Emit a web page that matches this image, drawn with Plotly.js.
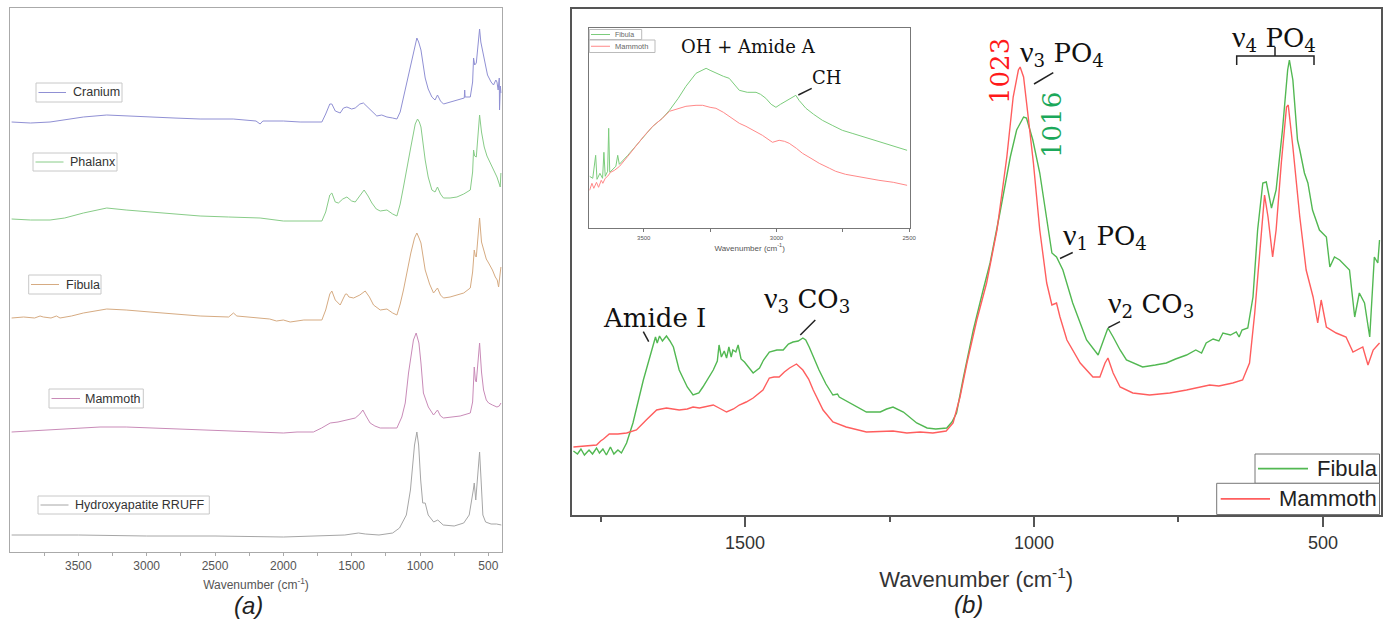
<!DOCTYPE html>
<html>
<head>
<meta charset="utf-8">
<script src="https://cdn.plot.ly/plotly-3.0.1.min.js"></script>
<style>html,body{margin:0;padding:0;background:#fff;}#chart{width:1389px;height:620px;}</style>
</head>
<body>
<div id="chart"></div>
<script>
// ---------------- Panel (a): stacked FTIR spectra ----------------
const seriesA = ["Cranium", "Phalanx", "Fibula", "Mammoth", "Hydroxyapatite RRUFF"];
const wnA_cranium  = [3988,3850,3707,3600,3463,3292,3150,2975,2800,2609,2367,2200,2170,2150,2000,1877,1718,1690,1660,1645,1620,1584,1560,1535,1500,1474,1440,1414,1390,1365,1316,1280,1242,1200,1169,1145,1121,1072,1040,1023,1010,993,962,940,913,890,872,850,828,780,730,676,673,670,632,615,608,600,588,575,564,555,535,520,506,480,462,445,437,428,420,418,412,408];
const intA_cranium = [430,429,430,432,435,437,436,435,434,433,433,431,428,431,431,430,430,438,448,448,441,439,444,445,443,444,448,449,446,442,436,437,435,434,433,440,455,485,505,514,510,502,474,463,455,452,457,451,448,450,452,454,462,455,455,470,494,487,489,505,523,510,495,484,477,470,467,472,470,462,474,442,466,459];
const wnA_phalanx  = [3988,3850,3707,3600,3463,3292,3150,2975,2800,2609,2400,2170,2000,1850,1718,1690,1660,1645,1620,1597,1565,1535,1500,1474,1440,1409,1380,1352,1320,1291,1242,1200,1169,1145,1121,1090,1067,1035,1018,1005,993,962,940,913,890,872,850,828,780,730,680,632,615,608,600,588,575,564,550,530,510,486,460,437,420,413,408];
const intA_phalanx = [333,332,332,334,339,344,342,340,338,336,335,334,331,331,331,340,357,359,350,349,353,355,351,350,356,362,356,349,343,341,342,338,336,348,365,390,405,428,433,430,425,392,375,362,360,365,358,354,354,355,358,362,380,402,396,395,415,437,420,405,396,389,382,375,368,365,379];
const wnA_fibula   = [3988,3900,3820,3780,3756,3700,3660,3634,3550,3463,3292,3150,2975,2800,2609,2400,2365,2340,2170,2100,2050,2000,1950,1850,1718,1690,1660,1645,1620,1584,1560,1545,1535,1520,1486,1440,1401,1370,1340,1291,1242,1200,1169,1145,1121,1090,1067,1040,1023,1010,993,962,930,901,872,850,828,780,730,680,632,615,603,595,588,575,564,550,535,515,498,470,449,435,425,415,408];
const intA_fibula  = [234,235,234,236,235,234,236,234,236,239,243,242,240,238,236,235,239,236,234,233,231,232,230,232,232,242,258,261,252,247,254,258,258,255,254,257,261,255,247,242,243,239,237,248,262,285,299,314,319,315,309,282,268,259,264,257,254,255,257,259,264,280,302,296,295,316,334,310,302,293,289,282,275,272,265,275,285];
const wnA_mammoth  = [3988,3850,3707,3500,3341,3150,2975,2800,2609,2400,2170,2000,1900,1780,1720,1657,1600,1535,1474,1440,1418,1395,1365,1330,1291,1220,1169,1133,1108,1084,1072,1048,1028,1008,993,975,939,901,872,850,828,760,706,632,615,603,595,588,575,564,550,535,515,498,470,437,420,408];
const intA_mammoth = [120,121,122,124,125,125,124,123,122,121,120,119,120,120,124,129,130,132,134,138,142,136,129,126,124,124,124,135,149,179,189,212,219,209,189,159,145,137,142,136,134,135,136,139,150,185,172,170,190,209,180,162,152,149,147,145,146,149];
const wnA_hap      = [3988,3500,3000,2500,2000,1700,1550,1450,1400,1300,1200,1150,1100,1070,1040,1023,1010,995,980,962,940,900,870,830,750,680,640,610,603,592,575,564,553,540,520,480,440,405];
const intA_hap     = [17,17,16,16,15,16,17,19,18,17,19,24,37,62,107,120,107,72,49,49,37,30,32,27,26,29,37,62,69,52,82,100,72,37,30,28,28,27];
const tickValsA = [3500, 3000, 2500, 2000, 1500, 1000, 500];
const minorTickValsA = [3750, 3250, 2750, 2250, 1750, 1250, 750];

// ---------------- Panel (b): Fibula vs Mammoth, fingerprint region ----------------
const seriesB = ["Fibula", "Mammoth"];
const wnB_fibula  = [1797,1790,1784,1778,1770,1764,1757,1752,1746,1740,1733,1727,1720,1714,1705,1694,1676,1659,1655,1652,1648,1643,1636,1630,1624,1614,1600,1590,1580,1573,1555,1548,1545,1541,1536,1532,1528,1524,1521,1516,1512,1507,1501,1486,1480,1475,1468,1458,1445,1434,1425,1417,1408,1400,1395,1389,1372,1360,1348,1340,1337,1325,1313,1290,1266,1255,1244,1236,1226,1203,1185,1170,1151,1142,1134,1123,1105,1088,1076,1059,1041,1030,1018,1013,1002,990,978,969,961,950,933,909,889,881,872,863,851,840,812,790,771,755,736,720,710,702,690,680,673,660,650,645,640,630,621,613,604,598,589,581,570,561,558,552,544,540,532,526,518,506,494,488,480,471,454,445,437,428,419,411,405,402];
const intB_fibula = [66,63,68,62,67,63,69,64,68,62,70,63,67,64,74,94,137,174,180,174,181,176,181,176,170,147,130,122,124,130,147,156,172,160,166,159,170,160,167,165,172,158,155,144,147,149,157,165,167,167,173,175,176,179,177,170,147,133,122,123,120,116,112,105,105,108,110,108,105,94,89,88,89,95,104,137,187,227,254,304,360,387,400,399,377,344,300,264,260,247,214,177,162,174,189,180,167,157,150,152,154,158,162,167,164,174,178,176,184,182,185,180,187,189,220,287,334,335,309,327,387,447,457,437,377,367,344,334,307,287,280,250,260,257,247,200,224,214,180,260,254,277];
const wnB_mammoth  = [1797,1780,1765,1757,1750,1745,1735,1720,1705,1688,1671,1653,1645,1636,1625,1614,1600,1590,1579,1565,1555,1545,1532,1520,1510,1498,1486,1469,1458,1450,1441,1432,1423,1411,1400,1390,1382,1365,1348,1325,1290,1244,1220,1197,1175,1152,1140,1128,1116,1099,1082,1064,1047,1036,1027,1024,1018,1010,1001,990,978,969,961,955,943,920,898,886,877,872,863,851,829,800,765,736,710,696,680,656,639,627,618,609,601,595,587,581,572,563,560,552,540,529,517,509,503,494,477,460,448,431,422,413,402];
const intB_mammoth = [70,71,72,72,76,78,83,83,84,87,97,107,108,109,108,107,108,110,109,111,112,109,105,108,112,115,119,127,139,140,140,145,149,153,147,138,127,107,95,90,85,86,84,85,84,86,94,120,154,197,234,287,360,420,447,450,440,400,354,287,234,212,214,200,177,154,140,140,154,159,144,130,124,122,124,127,130,132,131,134,137,154,204,270,322,300,260,287,354,410,412,370,300,247,220,194,217,190,184,180,165,170,152,167,174];
const tickValsB = [1500, 1000, 500];
const minorTickValsB = [1750, 1250, 750];

// ---------------- Inset: OH + Amide A region ----------------
const wnI_fibula  = [3704,3692,3681,3676,3665,3655,3650,3645,3636,3632,3628,3615,3605,3598,3592,3560,3528,3500,3466,3430,3403,3370,3341,3303,3280,3265,3250,3228,3200,3178,3160,3140,3110,3077,3060,3040,3020,3002,2985,2965,2945,2927,2915,2902,2889,2860,2827,2790,2752,2715,2677,2630,2589,2550,2508];
const intI_fibula = [52,50,73,49,55,50,76,52,57,100,56,60,62,73,64,73,83,92,102,110,118,130,142,155,158,160,158,155,152,150,144,138,136,136,134,130,124,121,124,127,130,133,128,124,120,114,108,103,98,95,92,88,85,82,78];
const wnI_mammoth  = [3704,3695,3688,3678,3670,3660,3654,3645,3636,3625,3610,3591,3560,3528,3500,3466,3430,3403,3370,3341,3303,3278,3250,3228,3200,3178,3140,3115,3080,3053,3015,2990,2970,2952,2925,2902,2870,2839,2800,2777,2740,2702,2660,2614,2560,2508];
const intI_mammoth = [38,45,40,46,41,48,45,50,52,56,58,62,72,83,92,102,110,117,120,122,123,123,121,120,116,112,105,102,97,93,86,88,87,85,80,75,70,65,60,57,54,52,50,48,46,43];
const tickValsI = [3500, 3000, 2500];
const minorTickValsI = [3250, 2750];

// ---------------- helpers (pixel -> paper) ----------------
const W = 1389, H = 620;
const PX = v => v / W;
const PY = v => 1 - v / H;

const colA = ['#9090d4', '#88cc88', '#d6ab82', '#c98bb8', '#a6a6a6'];
const xA = [wnA_cranium, wnA_phalanx, wnA_fibula, wnA_mammoth, wnA_hap];
const yA = [intA_cranium, intA_phalanx, intA_fibula, intA_mammoth, intA_hap];
const GREEN = '#52b852', RED = '#ff5e5e';
const colB = [GREEN, RED];
const colI = ['#7ccc7c', '#ff8888'];

const traces = [];
seriesA.forEach((name, i) => {
  traces.push({x: xA[i], y: yA[i], name: name, type: 'scatter', mode: 'lines',
    xaxis: 'x', yaxis: 'y', showlegend: false, hoverinfo: 'skip',
    line: {color: colA[i], width: 1}});
});
[[wnB_fibula, intB_fibula], [wnB_mammoth, intB_mammoth]].forEach((d, i) => {
  traces.push({x: d[0], y: d[1], name: seriesB[i], type: 'scatter', mode: 'lines',
    xaxis: 'x2', yaxis: 'y2', showlegend: false, hoverinfo: 'skip', line: {color: colB[i], width: 1.4}});
});
[[wnI_fibula, intI_fibula], [wnI_mammoth, intI_mammoth]].forEach((d, i) => {
  traces.push({x: d[0], y: d[1], name: seriesB[i], type: 'scatter', mode: 'lines',
    xaxis: 'x3', yaxis: 'y3', showlegend: false, hoverinfo: 'skip', line: {color: colI[i], width: 1}});
});

const SANS = 'Liberation Sans, Arial, sans-serif';
const SERIF = 'DejaVu Serif, serif';
const NU = '<span style="font-family:Liberation Serif;font-size:30px">ν</span>';

const layout = {
  width: W, height: H,
  margin: {l: 0, r: 0, t: 0, b: 0},
  paper_bgcolor: '#fff', plot_bgcolor: 'rgba(0,0,0,0)',
  showlegend: false,
  xaxis: {domain: [PX(10), PX(502)], range: [4000, 400], anchor: 'y',
    showline: true, mirror: true, linecolor: '#aaa', linewidth: 1,
    showgrid: false, zeroline: false,
    tickmode: 'array', tickvals: tickValsA, ticks: 'outside', ticklen: 3, tickcolor: '#aaa',
    minor: {tickmode: 'array', tickvals: minorTickValsA, ticks: 'outside', ticklen: 3, tickcolor: '#aaa'},
    tickfont: {family: SANS, size: 12, color: '#555'},
    title: {text: 'Wavenumber (cm<sup>-1</sup>)', font: {family: SANS, size: 12, color: '#555'}, standoff: 8}},
  yaxis: {domain: [PY(552), PY(8)], range: [0, 544], anchor: 'x',
    showline: true, mirror: true, linecolor: '#aaa', linewidth: 1,
    showgrid: false, zeroline: false, showticklabels: false, ticks: ''},
  xaxis2: {domain: [PX(571.7), PX(1380.7)], range: [1800, 400], anchor: 'y2',
    showline: true, mirror: true, linecolor: '#555', linewidth: 2,
    showgrid: false, zeroline: false,
    tickmode: 'array', tickvals: tickValsB, ticks: 'outside', ticklen: 10, tickwidth: 2, tickcolor: '#555',
    minor: {tickmode: 'array', tickvals: minorTickValsB, ticks: 'outside', ticklen: 5, tickwidth: 2, tickcolor: '#555'},
    tickfont: {family: SANS, size: 18, color: '#333'},
    title: {text: 'Wavenumber (cm<sup>-1</sup>)', font: {family: SANS, size: 22, color: '#333'}, standoff: 20}},
  yaxis2: {domain: [PY(515), PY(9)], range: [2, 508], anchor: 'x2',
    showline: true, mirror: true, linecolor: '#555', linewidth: 2,
    showgrid: false, zeroline: false, showticklabels: false, ticks: ''},
  xaxis3: {domain: [PX(589.3), PX(910)], range: [3705, 2497], anchor: 'y3',
    showline: true, mirror: true, linecolor: '#777', linewidth: 1,
    showgrid: false, zeroline: false,
    tickmode: 'array', tickvals: tickValsI, ticks: 'outside', ticklen: 3, tickcolor: '#777',
    minor: {tickmode: 'array', tickvals: minorTickValsI, ticks: 'outside', ticklen: 3, tickcolor: '#777'},
    tickfont: {family: SANS, size: 6, color: '#555'},
    title: {text: 'Wavenumber (cm<sup>-1</sup>)', font: {family: SANS, size: 8, color: '#555'}, standoff: 5}},
  yaxis3: {domain: [PY(228.3), PY(28.3)], range: [0, 200], anchor: 'x3',
    showline: true, mirror: true, linecolor: '#777', linewidth: 1,
    showgrid: false, zeroline: false, showticklabels: false, ticks: ''},
  annotations: [],
  shapes: []
};

const ann = (text, px, py, size, opts) => Object.assign({
  text: text, xref: 'paper', yref: 'paper', x: PX(px), y: PY(py),
  xanchor: 'center', yanchor: 'middle', showarrow: false,
  font: {family: SERIF, size: size, color: '#111'}}, opts || {});

// ---- legend boxes (drawn as framed keys) ----
function legendKey(label, color, box, lineX, textX, fontSize, border, lw, txtColor) {
  const cy = (box[1] + box[3]) / 2;
  layout.shapes.push({type: 'rect', xref: 'paper', yref: 'paper',
    x0: PX(box[0]), y0: PY(box[1]), x1: PX(box[2]), y1: PY(box[3]),
    fillcolor: '#fff', line: {color: border, width: 1}});
  layout.shapes.push({type: 'line', xref: 'paper', yref: 'paper',
    x0: PX(lineX[0]), y0: PY(cy), x1: PX(lineX[1]), y1: PY(cy), line: {color: color, width: lw}});
  layout.annotations.push(ann(label, textX, cy, fontSize,
    {xanchor: 'left', font: {family: SANS, size: fontSize, color: txtColor}}));
}
// panel (a)
legendKey(seriesA[0], colA[0], [36, 83, 122, 102], [38.5, 66], 70.5, 12.5, '#c8c8c8', 1, '#333');
legendKey(seriesA[1], colA[1], [33, 153, 117, 171], [35.5, 63.5], 68, 12.5, '#c8c8c8', 1, '#333');
legendKey(seriesA[2], colA[2], [28.7, 275, 101, 294], [31, 59], 63.5, 12.5, '#c8c8c8', 1, '#333');
legendKey(seriesA[3], colA[3], [49, 389, 143.3, 408], [51.5, 80], 83.3, 12.5, '#c8c8c8', 1, '#333');
legendKey(seriesA[4], colA[4], [38, 496, 209.3, 514], [40.5, 68.5], 72.5, 12.5, '#c8c8c8', 1, '#333');
// panel (b)
legendKey(seriesB[0], GREEN, [1255, 454, 1379.5, 483.3], [1258, 1308], 1315, 22, '#777', 1.6, '#222');
legendKey(seriesB[1], RED, [1216.7, 483.3, 1379.5, 514.5], [1220.7, 1270], 1276.5, 22, '#777', 1.6, '#222');
// inset
legendKey(seriesB[0], colI[0], [589.3, 29.5, 641.7, 39.5], [591, 610], 613, 7, '#bbb', 1, '#666');
legendKey(seriesB[1], colI[1], [589.3, 40, 655, 52.5], [591, 610], 613, 7.5, '#bbb', 1, '#666');

layout.annotations.push(
  ann('Amide I', 601, 318, 26, {xanchor: 'left'}),
  ann(NU + '<sub>3</sub> CO<sub>3</sub>', 762, 299, 26, {xanchor: 'left'}),
  ann('1023', 1000, 71, 26, {textangle: -90, font: {family: SERIF, size: 26, color: '#ff1a1a'}}),
  ann(NU + '<sub>3</sub> PO<sub>4</sub>', 1018, 53, 26, {xanchor: 'left'}),
  ann('1016', 1052, 125, 26, {textangle: -90, font: {family: SERIF, size: 26, color: '#1ca85a'}}),
  ann(NU + '<sub>1</sub> PO<sub>4</sub>', 1061, 236, 26, {xanchor: 'left'}),
  ann(NU + '<sub>2</sub> CO<sub>3</sub>', 1106, 304, 26, {xanchor: 'left'}),
  ann(NU + '<sub>4</sub> PO<sub>4</sub>', 1230, 38, 26, {xanchor: 'left'}),
  ann('OH + Amide A', 748, 46, 18),
  ann('CH', 826, 78, 18),
  ann('(a)', 248, 605, 24, {font: {family: SANS, size: 24, color: '#222', style: 'italic'}}),
  ann('(b)', 968, 604, 24, {font: {family: SANS, size: 24, color: '#222', style: 'italic'}})
);

const seg = (x0, y0, x1, y1) => ({type: 'line', xref: 'paper', yref: 'paper',
  x0: PX(x0), y0: PY(y0), x1: PX(x1), y1: PY(y1), line: {color: '#222', width: 1.5}});
layout.shapes.push(
  seg(643.3, 331.7, 648.7, 341.7),
  seg(815.3, 320, 800.3, 335),
  seg(1053.3, 72.7, 1034, 84),
  seg(1072.7, 252.5, 1060, 258.5),
  seg(1120, 321.7, 1108.3, 327.7),
  seg(811.7, 88.3, 798.3, 95),
  {type: 'path', xref: 'paper', yref: 'paper',
   path: `M ${PX(1236.7)},${PY(65)} L ${PX(1236.7)},${PY(56)} L ${PX(1314)},${PY(56)} L ${PX(1314)},${PY(65)} M ${PX(1275)},${PY(56)} L ${PX(1275)},${PY(47)}`,
   line: {color: '#222', width: 1.5}}
);

Plotly.newPlot('chart', traces, layout, {staticPlot: true, displayModeBar: false});
</script>
</body>
</html>
